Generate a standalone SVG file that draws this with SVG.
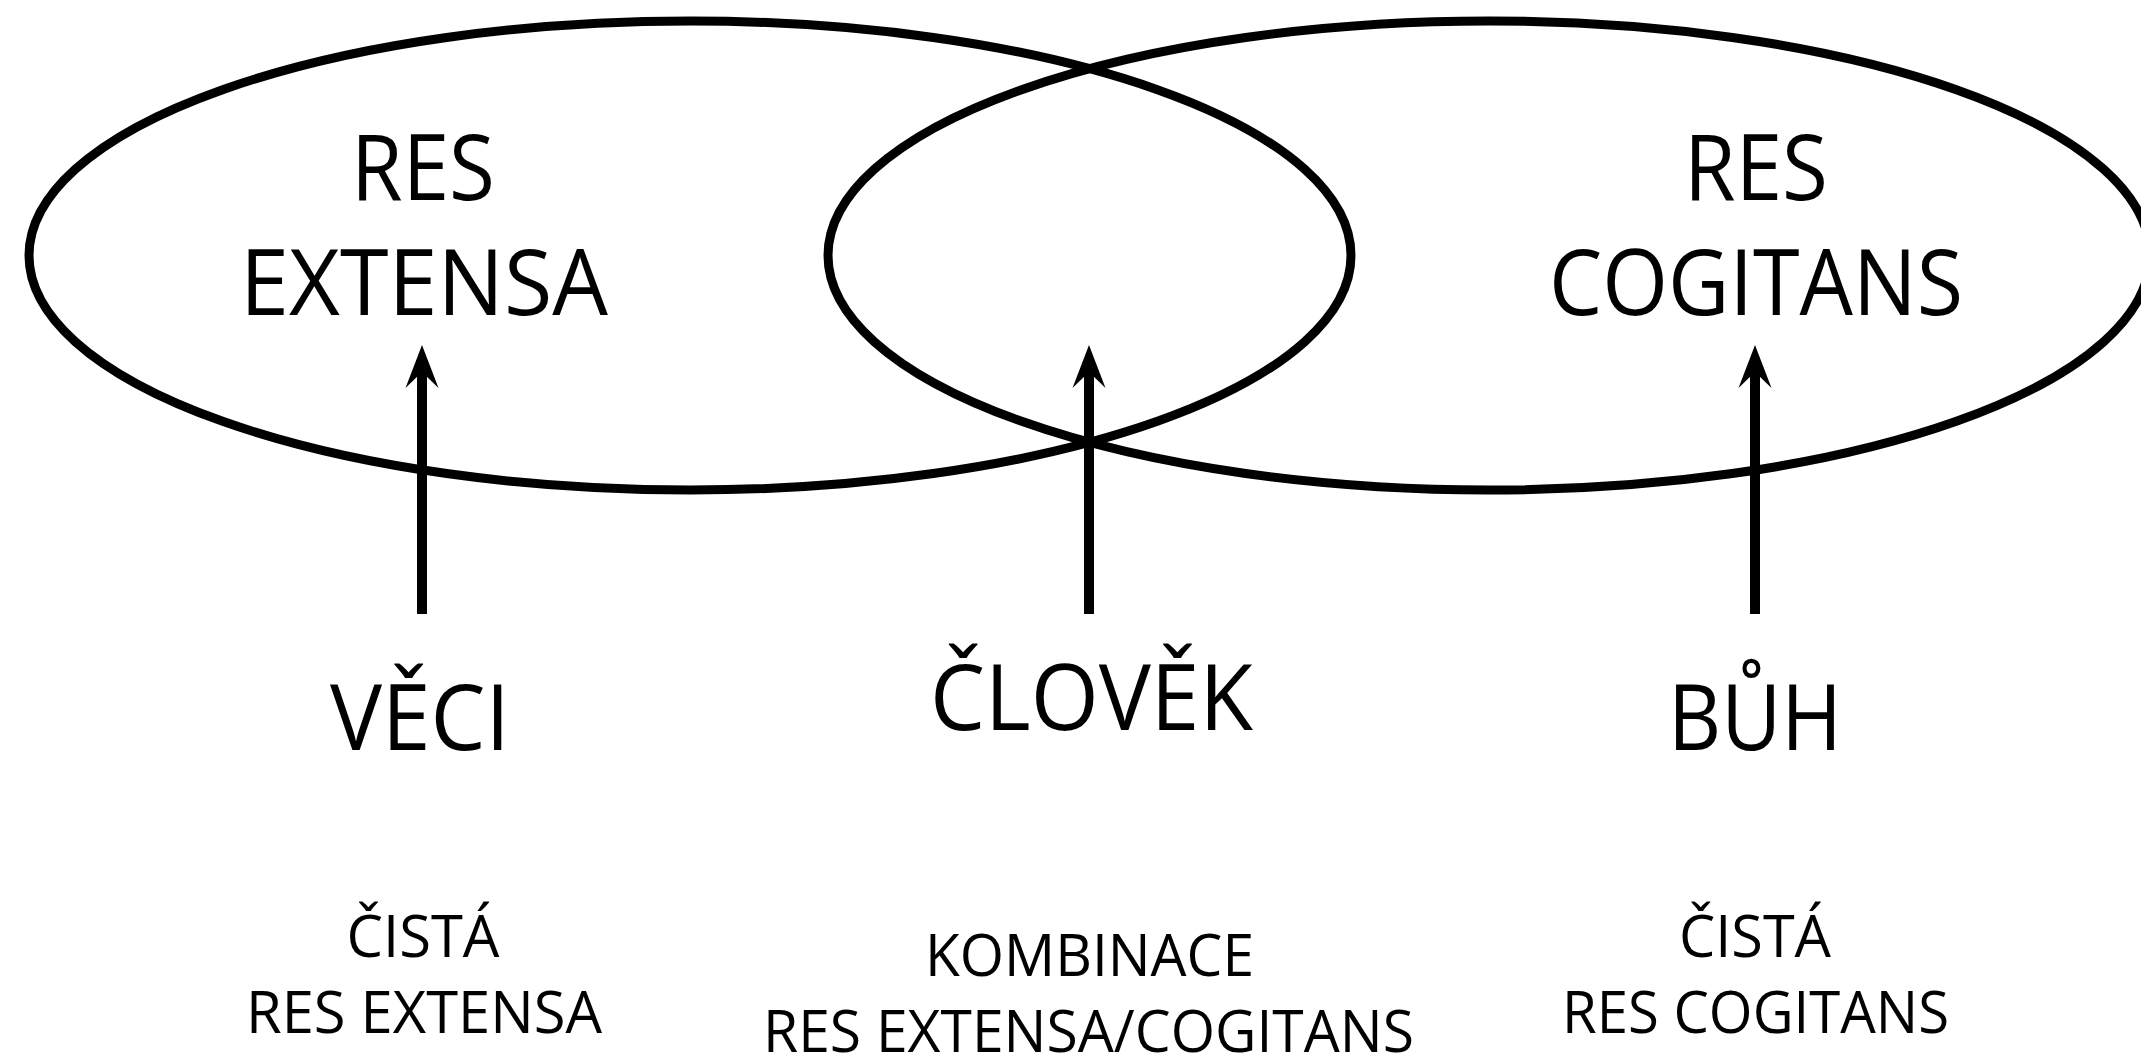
<svg xmlns="http://www.w3.org/2000/svg" width="2141" height="1054" viewBox="0 0 2141 1054">
  <style>
    .bg { fill: #ffffff; }
    .ell { fill: none; stroke: #000; stroke-width: 9; }
    .arrow { fill: none; stroke: #000; stroke-width: 10; }
    .big { font-family: "Open Sans", "Noto Sans", "Liberation Sans", sans-serif; font-size: 92px; fill: #000; text-anchor: middle; }
    .small { font-family: "Open Sans", "Noto Sans", "Liberation Sans", sans-serif; font-size: 59px; fill: #000; text-anchor: middle; }
  </style>
  <defs>
    <marker id="head" markerUnits="userSpaceOnUse" viewBox="0 0 44 34" markerWidth="44" markerHeight="34" refX="16" refY="17" orient="auto">
      <path d="M0,0.5 L43,17 L0,33.5 L16,17 Z" fill="#000"/>
    </marker>
  </defs>
  <rect class="bg" x="0" y="0" width="2141" height="1054"/>

  <g id="res-extensa">
    <ellipse class="ell" cx="690" cy="255.5" rx="661" ry="234.5"/>
    <text class="big" x="423" y="200" textLength="144" lengthAdjust="spacingAndGlyphs">RES</text>
    <text class="big" x="424" y="315" textLength="368" lengthAdjust="spacingAndGlyphs">EXTENSA</text>
  </g>

  <g id="res-cogitans">
    <ellipse class="ell" cx="1489" cy="255.5" rx="661" ry="234.5"/>
    <text class="big" x="1756" y="200" textLength="144" lengthAdjust="spacingAndGlyphs">RES</text>
    <text class="big" x="1756" y="315" textLength="414" lengthAdjust="spacingAndGlyphs">COGITANS</text>
  </g>

  <g id="veci">
    <text class="big" x="420" y="749.5" textLength="180" lengthAdjust="spacingAndGlyphs">VĚCI</text>
    <text class="small" x="423" y="957" textLength="153" lengthAdjust="spacingAndGlyphs">ČISTÁ</text>
    <text class="small" x="424" y="1033" textLength="356" lengthAdjust="spacingAndGlyphs">RES EXTENSA</text>
  </g>

  <g id="clovek">
    <text class="big" x="1091.5" y="730" textLength="323" lengthAdjust="spacingAndGlyphs">ČLOVĚK</text>
    <text class="small" x="1089.5" y="976" textLength="329" lengthAdjust="spacingAndGlyphs">KOMBINACE</text>
    <text class="small" x="1088.5" y="1052" textLength="651" lengthAdjust="spacingAndGlyphs">RES EXTENSA/COGITANS</text>
  </g>

  <g id="buh">
    <text class="big" x="1755" y="749.5" textLength="174" lengthAdjust="spacingAndGlyphs">BŮH</text>
    <text class="small" x="1755" y="957" textLength="152" lengthAdjust="spacingAndGlyphs">ČISTÁ</text>
    <text class="small" x="1755.5" y="1033" textLength="387" lengthAdjust="spacingAndGlyphs">RES COGITANS</text>
  </g>

  <g id="connectors">
    <line class="arrow" x1="422" y1="614" x2="422" y2="372" marker-end="url(#head)"/>
    <line class="arrow" x1="1089" y1="614" x2="1089" y2="372" marker-end="url(#head)"/>
    <line class="arrow" x1="1755" y1="614" x2="1755" y2="372" marker-end="url(#head)"/>
  </g>
</svg>
